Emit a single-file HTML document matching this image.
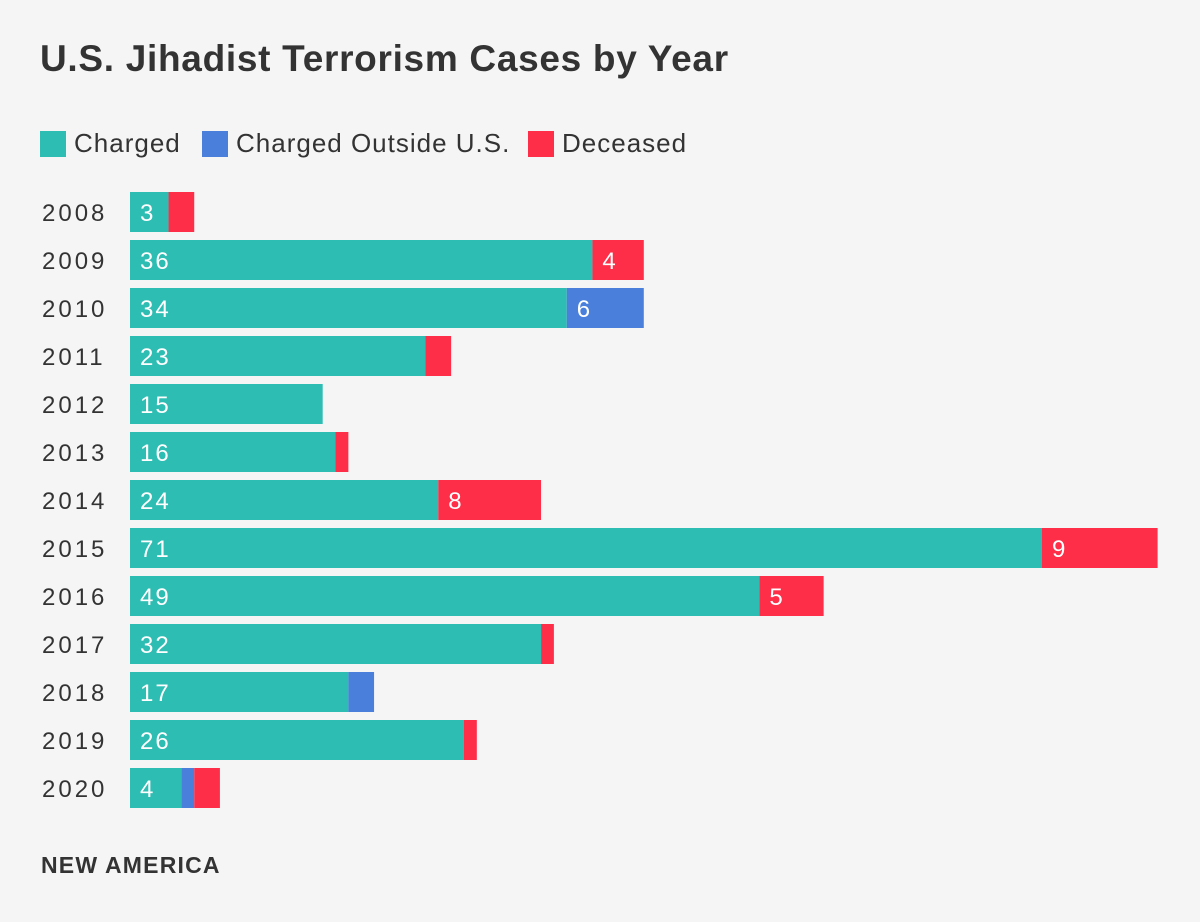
<!DOCTYPE html>
<html><head><meta charset="utf-8"><style>
body{margin:0;width:1200px;height:922px;background:#f5f5f5;font-family:"Liberation Sans",sans-serif;color:#333;position:relative;overflow:hidden}
.title{position:absolute;left:40px;top:38px;font-size:37px;font-weight:bold;letter-spacing:0.7px}
.leg{position:absolute;top:128px;font-size:26px;display:flex;align-items:center;letter-spacing:1px}
.sw{width:26px;height:26px;margin-right:8px}
.foot{position:absolute;left:41px;top:852px;font-size:23px;font-weight:bold;letter-spacing:1.2px}
</style></head><body>
<div class="title">U.S. Jihadist Terrorism Cases by Year</div>
<div class="leg" style="left:40px"><div class="sw" style="background:#2ebdb3"></div>Charged</div>
<div class="leg" style="left:202px"><div class="sw" style="background:#4a80dc"></div>Charged Outside U.S.</div>
<div class="leg" style="left:528px"><div class="sw" style="background:#ff2e48"></div>Deceased</div>
<svg id="chart" width="1200" height="922" style="position:absolute;left:0;top:0"></svg>
<div class="foot">NEW AMERICA</div>
<script>
const years=["2008","2009","2010","2011","2012","2013","2014","2015","2016","2017","2018","2019","2020"];
const charged=[3,36,34,23,15,16,24,71,49,32,17,26,4];
const outside=[0,0,6,0,0,0,0,0,0,0,2,0,1];
const deceased=[2,4,0,2,0,1,8,9,5,1,0,1,2];
const colors=["#2ebdb3","#4a80dc","#ff2e48"];
const svg=document.getElementById('chart');
const NS="http://www.w3.org/2000/svg";
const x0=130,scale=912/71,y0=192,step=48,bh=40;
const xs=v=>v*scale;
years.forEach((yr,i)=>{
  const y=y0+i*step;
  const t=document.createElementNS(NS,'text');
  t.setAttribute('x',42);t.setAttribute('y',y+29);
  t.setAttribute('font-size','24');t.setAttribute('fill','#333');
  t.setAttribute('letter-spacing','3');
  t.setAttribute('font-family','Liberation Sans, sans-serif');
  t.textContent=yr;
  
  
  svg.appendChild(t);
  let x=x0;
  [charged[i],outside[i],deceased[i]].forEach((v,k)=>{
    if(!v)return;
    const w=xs(v);
    const r=document.createElementNS(NS,'rect');
    r.setAttribute('x',x);r.setAttribute('y',y);r.setAttribute('width',w);r.setAttribute('height',bh);
    r.setAttribute('fill',colors[k]);
    
    
    svg.appendChild(r);
    if(v>=3){
      const l=document.createElementNS(NS,'text');
      l.setAttribute('x',x+10);l.setAttribute('y',y+29);
      l.setAttribute('font-size','24');l.setAttribute('fill','#fff');
      l.setAttribute('letter-spacing','2');
      l.setAttribute('font-family','Liberation Sans, sans-serif');
      l.textContent=v;
      
      
      svg.appendChild(l);
    }
    x+=w;
  });
});
</script>
</body></html>
